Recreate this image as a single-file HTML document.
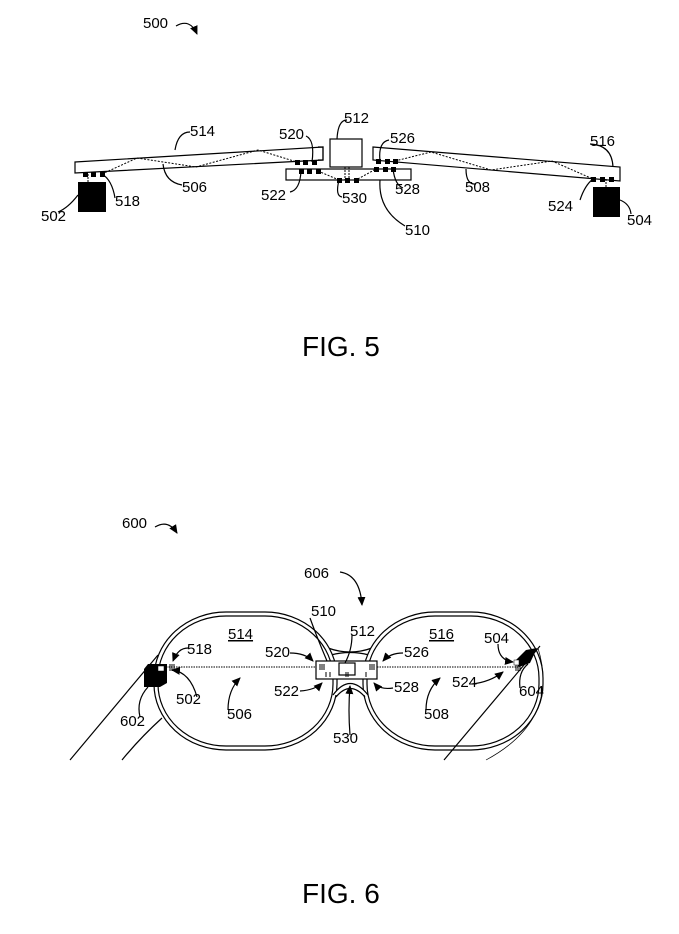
<!DOCTYPE html>
<html><head><meta charset="utf-8"><style>
html,body{margin:0;padding:0;background:#fff;}
svg{display:block;}
text{font-family:"Liberation Sans",Arial,sans-serif;font-size:15px;fill:#000;}
.big{font-size:28px;}
</style></head><body>
<svg width="679" height="934" viewBox="0 0 679 934" xmlns="http://www.w3.org/2000/svg">
<defs>
<marker id="ah" markerWidth="10" markerHeight="10" refX="8" refY="5" orient="auto" markerUnits="userSpaceOnUse">
<path d="M0,1 L9,5 L0,9 Z" fill="#000"/></marker>
</defs>
<g fill="none" stroke="#000" stroke-width="1.2">
<!-- FIG 5 -->
<path d="M176,26 Q190,18 197,34" marker-end="url(#ah)"/>
<!-- left arm -->
<polygon points="75,162 323,147 323,160 75,173" fill="#fff"/>
<polyline points="318,147 323,147 323,160 318,160"/>
<!-- right arm -->
<polygon points="373,147 620,167 620,181 373,160" fill="#fff"/>
<!-- center -->
<rect x="286" y="169" width="125" height="11" fill="#fff"/>
<rect x="330" y="139" width="32" height="28" fill="#fff"/>
<line x1="345" y1="167" x2="345" y2="180" stroke-dasharray="2,1" stroke-width="1"/>
<line x1="349" y1="167" x2="349" y2="180" stroke-dasharray="2,1" stroke-width="1"/>
<!-- zigzag dashed -->
<polyline points="102,174 137,158 196,167 258,150 297,162" stroke-dasharray="2,1.5" stroke-width="1"/>
<polyline points="395,161 431,152 491,170 552,161 593,179" stroke-dasharray="2,1.5" stroke-width="1"/>
<polyline points="318,171 339,180 356,180 376,169" stroke-dasharray="2,1.5" stroke-width="1"/>
<line x1="88" y1="174" x2="88" y2="182" stroke-dasharray="2,1" stroke-width="1"/>
<line x1="606" y1="179" x2="606" y2="187" stroke-dasharray="2,1" stroke-width="1"/>
<!-- leaders fig5 -->
<path d="M175,150 Q178,132 190,132"/>
<path d="M337,139 Q338,120 347,120"/>
<path d="M312,162 Q315,140 306,136"/>
<path d="M380,161 Q378,142 389,140"/>
<path d="M613,167 Q612,145 590,144"/>
<path d="M78,195 Q68,208 58,212"/>
<path d="M102,174 Q112,180 115,198"/>
<path d="M163,164 Q165,182 182,185"/>
<path d="M301,171 Q300,190 290,192"/>
<path d="M339,180 Q335,196 342,197"/>
<path d="M393,169 Q395,185 403,188"/>
<path d="M466,169 Q466,185 476,184"/>
<path d="M380,180 Q378,210 405,226"/>
<path d="M593,179 Q585,185 580,200"/>
<path d="M620,200 Q630,204 631,214"/>
</g>
<g fill="#000">
<rect x="78" y="182" width="28" height="30"/>
<rect x="593" y="187" width="27" height="30"/>
<rect x="83" y="172" width="5" height="5"/><rect x="91" y="172" width="5" height="5"/><rect x="100" y="172" width="5" height="5"/>
<rect x="295" y="160" width="5" height="5"/><rect x="303" y="160" width="5" height="5"/><rect x="312" y="160" width="5" height="5"/>
<rect x="299" y="169" width="5" height="5"/><rect x="307" y="169" width="5" height="5"/><rect x="316" y="169" width="5" height="5"/>
<rect x="337" y="178" width="5" height="5"/><rect x="345" y="178" width="5" height="5"/><rect x="354" y="178" width="5" height="5"/>
<rect x="374" y="167" width="5" height="5"/><rect x="383" y="167" width="5" height="5"/><rect x="391" y="167" width="5" height="5"/>
<rect x="376" y="159" width="5" height="5"/><rect x="385" y="159" width="5" height="5"/><rect x="393" y="159" width="5" height="5"/>
<rect x="591" y="177" width="5" height="5"/><rect x="600" y="177" width="5" height="5"/><rect x="609" y="177" width="5" height="5"/>
</g>
<text x="143" y="28">500</text>
<text x="190" y="136">514</text>
<text x="344" y="123">512</text>
<text x="279" y="139">520</text>
<text x="390" y="143">526</text>
<text x="590" y="146">516</text>
<text x="41" y="221">502</text>
<text x="115" y="206">518</text>
<text x="182" y="192">506</text>
<text x="261" y="200">522</text>
<text x="342" y="203">530</text>
<text x="395" y="194">528</text>
<text x="465" y="192">508</text>
<text x="405" y="235">510</text>
<text x="548" y="211">524</text>
<text x="627" y="225">504</text>
<text x="302" y="356" class="big">FIG. 5</text>

<!-- FIG 6 -->
<g fill="none" stroke="#000" stroke-width="1.2">
<path d="M155,527 Q168,519 177,533" marker-end="url(#ah)"/>
<path d="M340,572 Q360,575 362,605" marker-end="url(#ah)"/>
<!-- bridge upper -->
<path d="M328,648 Q350,656 372,648"/>
<path d="M331,655 Q350,650 369,655"/>
<!-- lenses -->
<rect x="154" y="612" width="183" height="138" rx="72" ry="66" fill="#fff"/>
<rect x="158" y="616" width="175" height="130" rx="68" ry="62"/>
<rect x="363" y="612" width="180" height="138" rx="72" ry="66" fill="#fff"/>
<rect x="367" y="616" width="172" height="130" rx="68" ry="62"/>
<!-- nose -->
<path d="M333,695 Q350,672 368,695" fill="#fff"/>
<path d="M336,697 Q350,680 365,697"/>
<!-- temples -->
<line x1="70" y1="760" x2="158" y2="655"/>
<path d="M122,760 Q140,738 162,718"/>
<line x1="444" y1="760" x2="540" y2="646"/>
<path d="M486,760 Q560,720 538,648" stroke-width="0.7"/>
<!-- dotted line -->
<line x1="166" y1="667" x2="317" y2="667" stroke-dasharray="1.5,1" stroke-width="1"/>
<line x1="377" y1="667" x2="520" y2="667" stroke-dasharray="1.5,1" stroke-width="1"/>
<line x1="326" y1="674" x2="368" y2="674" stroke-dasharray="1.5,1" stroke-width="1"/>
<!-- center box -->
<rect x="316" y="661" width="61" height="18" fill="#fff"/>
<rect x="339" y="663" width="16" height="12" fill="#fff"/>
<!-- leaders fig6 -->
<path d="M310,618 Q318,640 327,661"/>
<path d="M352,635 Q352,650 345,663"/>
<path d="M188,648 Q178,648 173,661" marker-end="url(#ah)"/>
<path d="M197,697 Q190,672 172,670" marker-end="url(#ah)"/>
<path d="M228,710 Q228,690 240,678" marker-end="url(#ah)"/>
<path d="M290,653 Q305,653 313,661" marker-end="url(#ah)"/>
<path d="M300,691 Q315,690 322,683" marker-end="url(#ah)"/>
<path d="M403,653 Q390,653 383,661" marker-end="url(#ah)"/>
<path d="M393,688 Q380,690 374,683" marker-end="url(#ah)"/>
<path d="M350,735 Q348,710 350,686" marker-end="url(#ah)"/>
<path d="M426,710 Q426,690 440,678" marker-end="url(#ah)"/>
<path d="M472,684 Q490,682 503,672" marker-end="url(#ah)"/>
<path d="M498,644 Q498,660 513,662" marker-end="url(#ah)"/>
<path d="M520,688 Q518,672 528,664"/>
<path d="M140,717 Q136,700 148,687"/>
</g>
<g stroke="#000" stroke-width="1">
<path d="M170,664v7M172,664v7M174,664v7M520,664v7M518,664v7M516,664v7"/>
<path d="M320,664v6M322,664v6M324,664v6M370,664v6M372,664v6M374,664v6"/>
<path d="M326,672v5M330,672v5M346,672v5M348,672v5M366,672v5"/>
</g>
<path d="M148,664 L167,664 L167,683 L160,687 L144,687 L144,669 Z" fill="#000"/>
<rect x="158" y="666" width="6" height="5" fill="#fff" stroke="#000" stroke-width="0.5"/>
<path d="M526,650 L537,648 L530,663 L519,667 L515,661 Z" fill="#000"/>
<rect x="514" y="660" width="5" height="5" fill="#fff" stroke="#000" stroke-width="0.5"/>
<text x="122" y="528">600</text>
<text x="304" y="578">606</text>
<text x="311" y="616">510</text>
<text x="350" y="636">512</text>
<text x="228" y="639" text-decoration="underline">514</text>
<text x="429" y="639" text-decoration="underline">516</text>
<text x="484" y="643">504</text>
<text x="187" y="654">518</text>
<text x="265" y="657">520</text>
<text x="404" y="657">526</text>
<text x="176" y="704">502</text>
<text x="274" y="696">522</text>
<text x="394" y="692">528</text>
<text x="452" y="687">524</text>
<text x="519" y="696">604</text>
<text x="120" y="726">602</text>
<text x="227" y="719">506</text>
<text x="424" y="719">508</text>
<text x="333" y="743">530</text>
<text x="302" y="903" class="big">FIG. 6</text>
</svg>
</body></html>
